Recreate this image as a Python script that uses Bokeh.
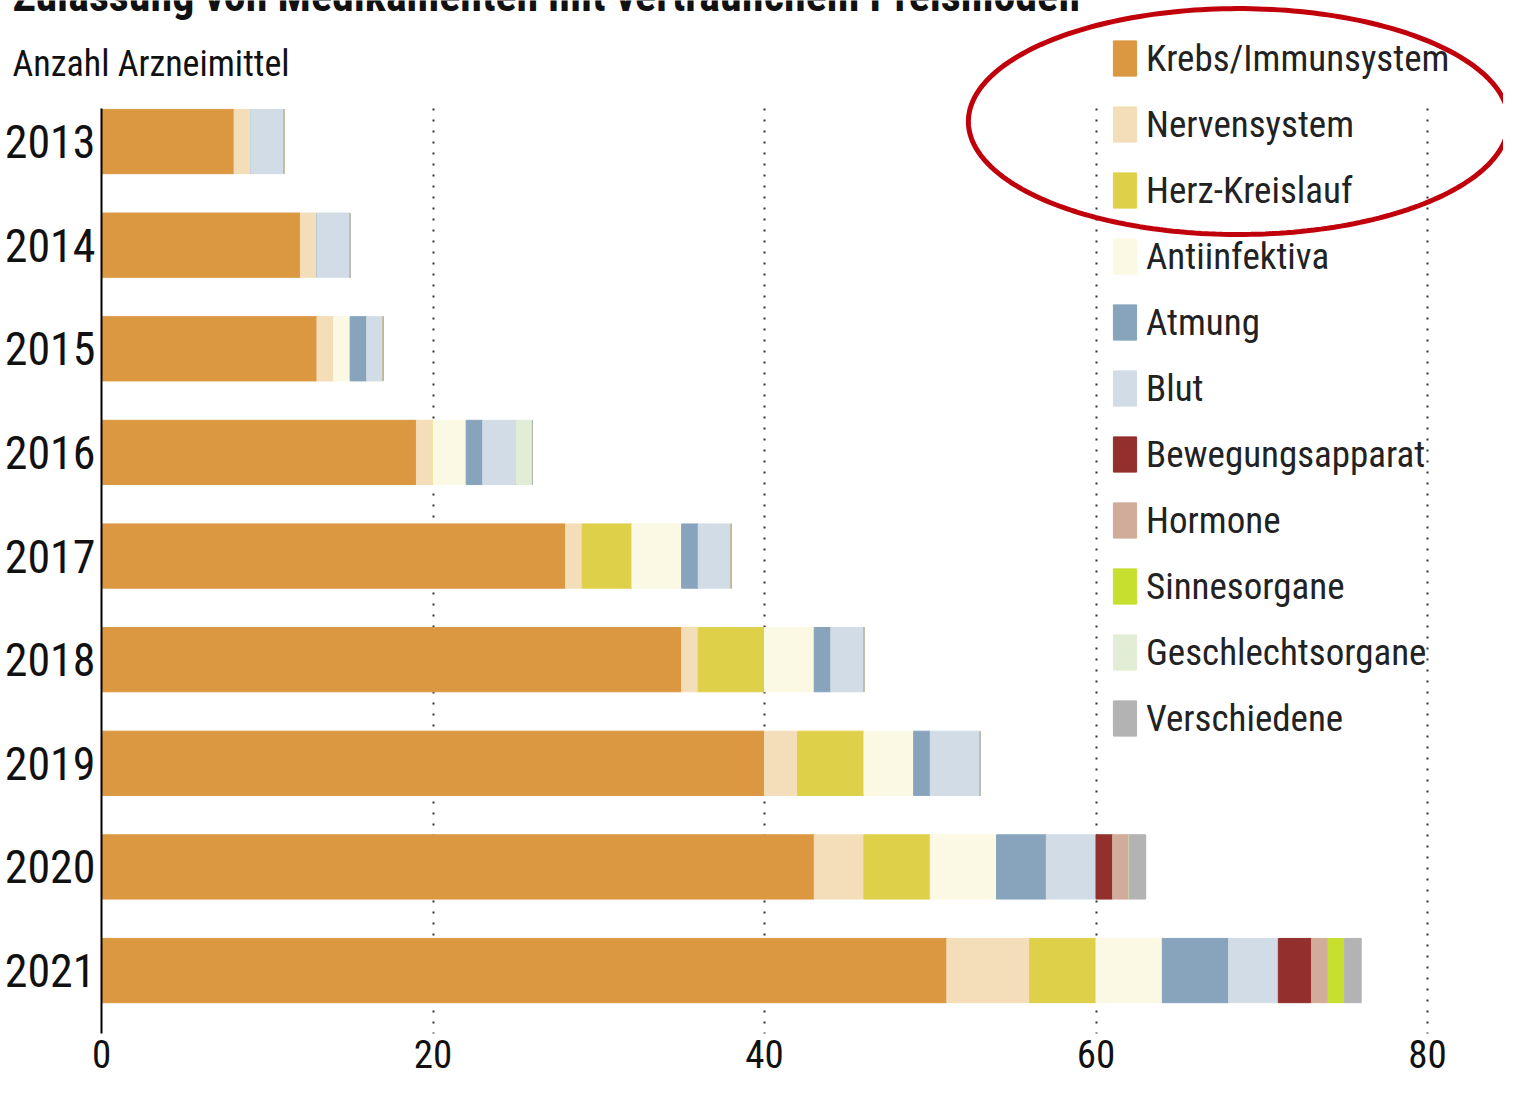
import numpy as np
from bokeh.plotting import figure
from bokeh.models import ColumnDataSource, Range1d, FixedTicker, Label, PolyAnnotation
from bokeh.embed import file_html
from bokeh.resources import INLINE

# ---- data ----
years = ["2013", "2014", "2015", "2016", "2017", "2018", "2019", "2020", "2021"]
categories = ["Krebs/Immunsystem", "Nervensystem", "Herz-Kreislauf", "Antiinfektiva",
              "Atmung", "Blut", "Bewegungsapparat", "Hormone", "Sinnesorgane",
              "Geschlechtsorgane", "Verschiedene"]
krebs        = [8, 12, 13, 19, 28, 35, 40, 43, 51]
nerven       = [1, 1, 1, 1, 1, 1, 2, 3, 5]
herz         = [0, 0, 0, 0, 3, 4, 4, 4, 4]
antiinf      = [0, 0, 1, 2, 3, 3, 3, 4, 4]
atmung       = [0, 0, 1, 1, 1, 1, 1, 3, 4]
blut         = [2, 2, 1, 2, 2, 2, 3, 3, 3]
bewegung     = [0, 0, 0, 0, 0, 0, 0, 1, 2]
hormone      = [0, 0, 0, 0, 0, 0, 0, 1, 1]
sinnes       = [0, 0, 0, 0, 0, 0, 0, 0, 1]
geschlecht   = [0, 0, 0, 1, 0, 0, 0, 0, 0]
verschiedene = [0, 0, 0, 0, 0, 0, 0, 1, 1]
x_ticks = [0, 20, 40, 60, 80]

colors = ["#DB9841", "#F4DDB9", "#DFD04A", "#FBF8E4", "#87A4BC", "#D1DCE6",
          "#93302E", "#D1AC9A", "#C7DF2E", "#E2EDD6", "#B3B3B3"]

keys = ["krebs", "nerven", "herz", "antiinf", "atmung", "blut", "bewegung",
        "hormone", "sinnes", "geschlecht", "verschiedene"]
series = [krebs, nerven, herz, antiinf, atmung, blut, bewegung, hormone, sinnes,
          geschlecht, verschiedene]

data = {"y": list(range(len(years)))}
for k, s in zip(keys, series):
    data[k] = s
src = ColumnDataSource(data)

FONT = "Roboto Condensed, DejaVu Sans Condensed, sans-serif"

W, H = 1503, 1080
X0 = -6.094                      # x range start (value 0 sits at the y axis)
X1 = X0 + W / 16.575
Y_TOP, Y_BOT = -1.361, 9.061     # y range (row index, top to bottom)
AXIS_Y = (-0.32, 8.61)           # extent of axis line / grid lines

p = figure(width=W, height=H,
           x_range=Range1d(X0, X1), y_range=Range1d(Y_BOT, Y_TOP),
           output_backend="svg", toolbar_location=None,
           min_border=0, outline_line_color=None)

grid = p.xgrid[0]
use_grid = "cross_bounds" in grid.properties()
if not use_grid:
    grid.visible = False
    n = len(x_ticks) - 1
    p.segment(x0=x_ticks[1:], x1=x_ticks[1:], y0=[AXIS_Y[0]] * n, y1=[AXIS_Y[1]] * n,
              line_color="#333333", line_dash="2 9", line_width=2)

p.hbar_stack(keys, y="y", height=0.62, color=colors, source=src,
             legend_label=categories)

# axes (fixed inside the frame)
p.xaxis.fixed_location = AXIS_Y[1]
p.xaxis.ticker = FixedTicker(ticks=x_ticks)
p.xaxis.axis_line_color = None
p.xaxis.major_tick_line_color = None
p.xaxis.minor_tick_line_color = None
p.xaxis.major_label_text_font = FONT
p.xaxis.major_label_text_font_size = "39px"
p.xaxis.major_label_text_color = "#111111"
p.xaxis.major_label_standoff = 0

p.yaxis.fixed_location = 0
p.yaxis.bounds = AXIS_Y
p.yaxis.ticker = FixedTicker(ticks=list(range(len(years))))
p.yaxis.major_label_overrides = {i: y for i, y in enumerate(years)}
p.yaxis.axis_line_color = "black"
p.yaxis.axis_line_width = 2
p.yaxis.major_tick_line_color = None
p.yaxis.minor_tick_line_color = None
p.yaxis.major_label_text_font = FONT
p.yaxis.major_label_text_font_size = "46px"
p.yaxis.major_label_text_color = "#111111"
p.yaxis.major_label_standoff = 0

p.ygrid.grid_line_color = None
grid.ticker = FixedTicker(ticks=x_ticks[1:])
grid.grid_line_color = "#333333"
grid.grid_line_dash = "2 9"
grid.grid_line_width = 2
if use_grid:
    grid.cross_bounds = AXIS_Y

# legend
leg = p.legend[0]
leg.location = (1110, 340)
leg.glyph_width = 29
leg.glyph_height = 44
leg.label_height = 44
leg.spacing = 22
leg.padding = 0
leg.margin = 0
leg.label_standoff = 7
leg.border_line_color = None
leg.background_fill_alpha = 0
leg.label_text_font = FONT
leg.label_text_font_size = "37px"
leg.label_text_color = "#222222"

# titles
p.add_layout(Label(x=-5.37, y=-1.409, text="Zulassung von Medikamenten mit vertraulichem Preismodell",
                   text_font=FONT, text_font_style="bold", text_font_size="44px",
                   text_color="#111111", text_baseline="alphabetic"))
p.add_layout(Label(x=-5.37, y=-0.753, text="Anzahl Arzneimittel",
                   text_font=FONT, text_font_size="36px",
                   text_color="#111111", text_baseline="alphabetic"))

# highlight ellipse around the first three legend entries
t = np.linspace(0, 2 * np.pi, 240)
cx, cy, rx, ry = 68.6, -0.193, 16.3, 1.09
p.add_layout(PolyAnnotation(xs=list(cx + rx * np.cos(t)), ys=list(cy + ry * np.sin(t)),
                            fill_color=None, fill_alpha=0, line_color="#C0000B",
                            line_alpha=1.0, line_width=5))

open("out.html", "w").write(file_html(p, INLINE))
